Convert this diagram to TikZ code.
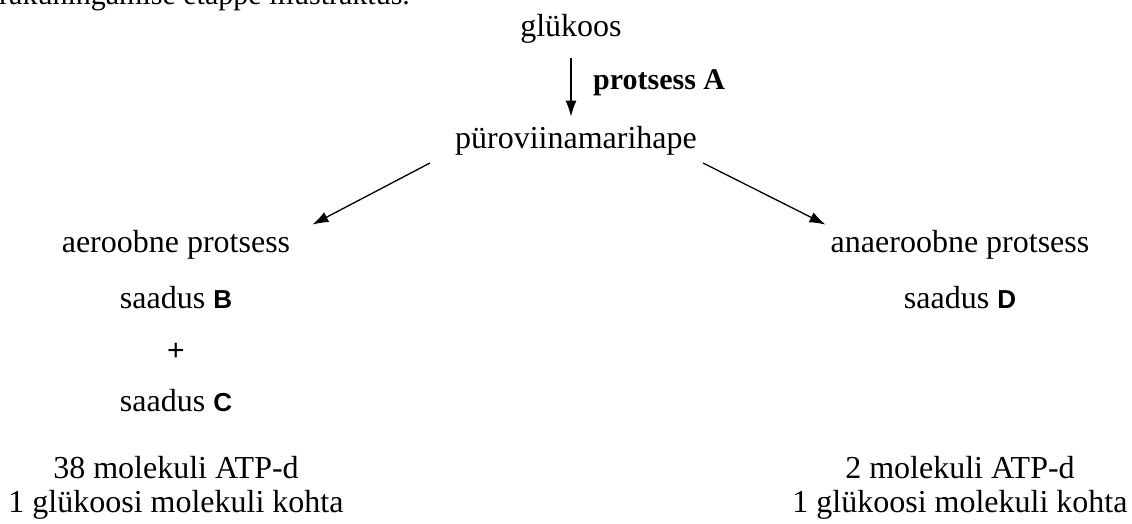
\documentclass[tikz,border=0pt]{standalone}
\usepackage{fontspec}
\setmainfont{Liberation Serif}
\newfontfamily\labelsans{Liberation Sans}
\usetikzlibrary{arrows.meta}

\tikzset{
  txt/.style={anchor=base, inner sep=0pt, font=\fontsize{32}{34}\selectfont},
  arr/.style={line width=1.3pt, -{Latex[length=16pt,width=11pt]}},
}
\newcommand{\lettB}[1]{{\labelsans\bfseries\fontsize{26}{30}\selectfont #1}}

\begin{document}
\begin{tikzpicture}[x=1pt,y=-1pt]
  \useasboundingbox (0,0) rectangle (1132,524);

  % heading line running above the scheme
  \node[txt, anchor=base west, font=\fontsize{30}{34}\selectfont] (head) at (-1,5) {rakuhingamise etappe illustraktus.};

  % main chain
  \node[txt] (gl) at (571,37) {glükoos};
  \node[txt] (pu) at (576,148) {püroviinamarihape};
  \node[txt, anchor=base west, font=\bfseries\fontsize{30}{36}\selectfont] (pa) at (593,90) {protsess A};

  % aerobic branch
  \node[txt] (ae) at (176,252) {aeroobne protsess};
  \node[txt] (sb) at (176,308) {saadus \lettB{B}};
  \node[txt, font=\labelsans\fontsize{30}{34}\selectfont] (plus) at (176,360) {+};
  \node[txt] (sc) at (176,411) {saadus \lettB{C}};
  \node[txt, align=center] (atp1) at (176,512) {38 molekuli ATP-d\\1 glükoosi molekuli kohta};

  % anaerobic branch
  \node[txt] (an) at (960,252) {anaeroobne protsess};
  \node[txt] (sd) at (960,308) {saadus \lettB{D}};
  \node[txt, align=center] (atp2) at (960,512) {2 molekuli ATP-d\\1 glükoosi molekuli kohta};

  % connectors
  \draw[arr] ([yshift=-14pt]gl.south) -- ([yshift=9pt]gl.south |- pu.north);
  \draw[arr] ([shift={(-25,8)}]pu.south west) -- ([shift={(22,-5)}]ae.north east);
  \draw[arr] ([shift={(6,8)}]pu.south east) -- ([shift={(-5,-5)}]an.north west);
\end{tikzpicture}
\end{document}
